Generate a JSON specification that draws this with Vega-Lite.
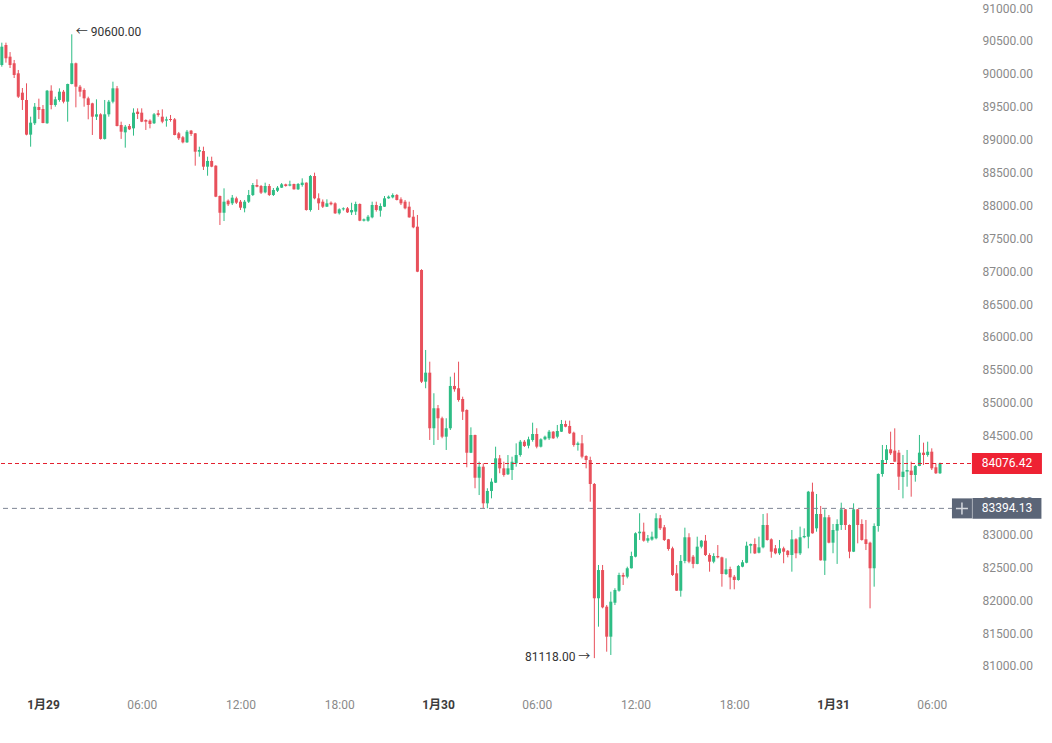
{
"$schema":"https://vega.github.io/schema/vega-lite/v6.json",
"width":970,"height":690,"padding":0,"background":"white",
"config":{"view":{"stroke":null},"font":"Roboto, 'Noto Sans CJK SC', sans-serif"},
"datasets":{"k":[
{"t":"2026-01-28T21:30:00Z","o":90134,"h":90473,"l":90108,"c":90412},
{"t":"2026-01-28T21:45:00Z","o":90438,"h":90473,"l":90169,"c":90236},
{"t":"2026-01-28T22:00:00Z","o":90260,"h":90330,"l":90088,"c":90134},
{"t":"2026-01-28T22:15:00Z","o":90160,"h":90210,"l":89936,"c":89982},
{"t":"2026-01-28T22:30:00Z","o":90007,"h":90058,"l":89632,"c":89652},
{"t":"2026-01-28T22:45:00Z","o":89713,"h":89784,"l":89450,"c":89602},
{"t":"2026-01-28T23:00:00Z","o":89602,"h":89855,"l":89065,"c":89075},
{"t":"2026-01-28T23:15:00Z","o":89075,"h":89348,"l":88892,"c":89257},
{"t":"2026-01-28T23:30:00Z","o":89248,"h":89556,"l":89222,"c":89500},
{"t":"2026-01-28T23:45:00Z","o":89495,"h":89622,"l":89313,"c":89450},
{"t":"2026-01-29T00:00:00Z","o":89465,"h":89525,"l":89248,"c":89252},
{"t":"2026-01-29T00:15:00Z","o":89248,"h":89754,"l":89240,"c":89743},
{"t":"2026-01-29T00:30:00Z","o":89743,"h":89825,"l":89460,"c":89526},
{"t":"2026-01-29T00:45:00Z","o":89526,"h":89652,"l":89500,"c":89612},
{"t":"2026-01-29T01:00:00Z","o":89602,"h":89779,"l":89576,"c":89728},
{"t":"2026-01-29T01:15:00Z","o":89728,"h":89754,"l":89551,"c":89576},
{"t":"2026-01-29T01:30:00Z","o":89576,"h":89850,"l":89272,"c":89845},
{"t":"2026-01-29T01:45:00Z","o":89845,"h":90600,"l":89840,"c":90160},
{"t":"2026-01-29T02:00:00Z","o":90160,"h":90170,"l":89490,"c":89804},
{"t":"2026-01-29T02:15:00Z","o":89804,"h":89830,"l":89652,"c":89728},
{"t":"2026-01-29T02:30:00Z","o":89754,"h":89779,"l":89500,"c":89627},
{"t":"2026-01-29T02:45:00Z","o":89627,"h":89652,"l":89308,"c":89526},
{"t":"2026-01-29T03:00:00Z","o":89551,"h":89560,"l":89070,"c":89348},
{"t":"2026-01-29T03:15:00Z","o":89348,"h":89612,"l":89298,"c":89384},
{"t":"2026-01-29T03:30:00Z","o":89384,"h":89400,"l":89000,"c":89010},
{"t":"2026-01-29T03:45:00Z","o":89010,"h":89602,"l":89000,"c":89384},
{"t":"2026-01-29T04:00:00Z","o":89384,"h":89602,"l":89348,"c":89576},
{"t":"2026-01-29T04:15:00Z","o":89576,"h":89880,"l":89551,"c":89779},
{"t":"2026-01-29T04:30:00Z","o":89779,"h":89815,"l":89200,"c":89206},
{"t":"2026-01-29T04:45:00Z","o":89222,"h":89272,"l":89010,"c":89120},
{"t":"2026-01-29T05:00:00Z","o":89110,"h":89222,"l":88877,"c":89196},
{"t":"2026-01-29T05:15:00Z","o":89206,"h":89237,"l":89145,"c":89156},
{"t":"2026-01-29T05:30:00Z","o":89171,"h":89475,"l":89060,"c":89409},
{"t":"2026-01-29T05:45:00Z","o":89424,"h":89475,"l":89313,"c":89389},
{"t":"2026-01-29T06:00:00Z","o":89409,"h":89475,"l":89265,"c":89272},
{"t":"2026-01-29T06:15:00Z","o":89298,"h":89308,"l":89146,"c":89272},
{"t":"2026-01-29T06:30:00Z","o":89288,"h":89308,"l":89171,"c":89237},
{"t":"2026-01-29T06:45:00Z","o":89248,"h":89404,"l":89237,"c":89384},
{"t":"2026-01-29T07:00:00Z","o":89400,"h":89450,"l":89348,"c":89374},
{"t":"2026-01-29T07:15:00Z","o":89348,"h":89460,"l":89248,"c":89272},
{"t":"2026-01-29T07:30:00Z","o":89288,"h":89348,"l":89196,"c":89308},
{"t":"2026-01-29T07:45:00Z","o":89313,"h":89374,"l":89272,"c":89298},
{"t":"2026-01-29T08:00:00Z","o":89308,"h":89328,"l":89065,"c":89070},
{"t":"2026-01-29T08:15:00Z","o":89095,"h":89116,"l":88994,"c":89020},
{"t":"2026-01-29T08:30:00Z","o":89035,"h":89055,"l":88943,"c":88958},
{"t":"2026-01-29T08:45:00Z","o":88958,"h":89146,"l":88950,"c":89120},
{"t":"2026-01-29T09:00:00Z","o":89136,"h":89146,"l":89055,"c":89085},
{"t":"2026-01-29T09:15:00Z","o":89095,"h":89100,"l":88603,"c":88816},
{"t":"2026-01-29T09:30:00Z","o":88816,"h":88892,"l":88740,"c":88842},
{"t":"2026-01-29T09:45:00Z","o":88826,"h":88892,"l":88538,"c":88588},
{"t":"2026-01-29T10:00:00Z","o":88588,"h":88740,"l":88451,"c":88675},
{"t":"2026-01-29T10:15:00Z","o":88675,"h":88740,"l":88580,"c":88588},
{"t":"2026-01-29T10:30:00Z","o":88603,"h":88610,"l":88125,"c":88132},
{"t":"2026-01-29T10:45:00Z","o":88142,"h":88150,"l":87702,"c":87888},
{"t":"2026-01-29T11:00:00Z","o":87888,"h":88259,"l":87762,"c":88056},
{"t":"2026-01-29T11:15:00Z","o":88071,"h":88090,"l":87990,"c":88016},
{"t":"2026-01-29T11:30:00Z","o":88031,"h":88158,"l":88005,"c":88117},
{"t":"2026-01-29T11:45:00Z","o":88107,"h":88132,"l":88021,"c":88041},
{"t":"2026-01-29T12:00:00Z","o":88056,"h":88082,"l":87930,"c":87965},
{"t":"2026-01-29T12:15:00Z","o":87955,"h":88082,"l":87894,"c":88056},
{"t":"2026-01-29T12:30:00Z","o":88056,"h":88234,"l":88036,"c":88157},
{"t":"2026-01-29T12:45:00Z","o":88157,"h":88340,"l":88142,"c":88310},
{"t":"2026-01-29T13:00:00Z","o":88310,"h":88396,"l":88275,"c":88284},
{"t":"2026-01-29T13:15:00Z","o":88294,"h":88310,"l":88173,"c":88193},
{"t":"2026-01-29T13:30:00Z","o":88198,"h":88345,"l":88183,"c":88294},
{"t":"2026-01-29T13:45:00Z","o":88294,"h":88325,"l":88142,"c":88158},
{"t":"2026-01-29T14:00:00Z","o":88158,"h":88264,"l":88142,"c":88234},
{"t":"2026-01-29T14:15:00Z","o":88223,"h":88294,"l":88203,"c":88269},
{"t":"2026-01-29T14:30:00Z","o":88269,"h":88340,"l":88264,"c":88320},
{"t":"2026-01-29T14:45:00Z","o":88320,"h":88330,"l":88284,"c":88294},
{"t":"2026-01-29T15:00:00Z","o":88300,"h":88375,"l":88290,"c":88320},
{"t":"2026-01-29T15:15:00Z","o":88325,"h":88330,"l":88240,"c":88244},
{"t":"2026-01-29T15:30:00Z","o":88244,"h":88340,"l":88234,"c":88325},
{"t":"2026-01-29T15:45:00Z","o":88310,"h":88411,"l":88284,"c":88345},
{"t":"2026-01-29T16:00:00Z","o":88345,"h":88350,"l":87920,"c":87930},
{"t":"2026-01-29T16:15:00Z","o":87930,"h":88462,"l":87905,"c":88446},
{"t":"2026-01-29T16:30:00Z","o":88446,"h":88497,"l":88092,"c":88107},
{"t":"2026-01-29T16:45:00Z","o":88107,"h":88183,"l":87930,"c":88031},
{"t":"2026-01-29T17:00:00Z","o":88056,"h":88090,"l":87960,"c":87980},
{"t":"2026-01-29T17:15:00Z","o":87980,"h":88092,"l":87975,"c":88031},
{"t":"2026-01-29T17:30:00Z","o":88041,"h":88060,"l":88000,"c":88016},
{"t":"2026-01-29T17:45:00Z","o":88031,"h":88046,"l":87870,"c":87879},
{"t":"2026-01-29T18:00:00Z","o":87879,"h":87955,"l":87860,"c":87940},
{"t":"2026-01-29T18:15:00Z","o":87940,"h":87970,"l":87920,"c":87955},
{"t":"2026-01-29T18:30:00Z","o":87955,"h":87975,"l":87884,"c":87894},
{"t":"2026-01-29T18:45:00Z","o":87894,"h":88040,"l":87854,"c":87930},
{"t":"2026-01-29T19:00:00Z","o":87905,"h":88056,"l":87854,"c":88021},
{"t":"2026-01-29T19:15:00Z","o":88021,"h":88030,"l":87760,"c":87767},
{"t":"2026-01-29T19:30:00Z","o":87767,"h":87800,"l":87755,"c":87788},
{"t":"2026-01-29T19:45:00Z","o":87767,"h":87854,"l":87752,"c":87828},
{"t":"2026-01-29T20:00:00Z","o":87818,"h":88056,"l":87803,"c":88006},
{"t":"2026-01-29T20:15:00Z","o":88006,"h":88056,"l":87905,"c":87930},
{"t":"2026-01-29T20:30:00Z","o":87920,"h":88031,"l":87828,"c":87990},
{"t":"2026-01-29T20:45:00Z","o":87980,"h":88142,"l":87975,"c":88107},
{"t":"2026-01-29T21:00:00Z","o":88107,"h":88150,"l":88100,"c":88132},
{"t":"2026-01-29T21:15:00Z","o":88122,"h":88183,"l":88107,"c":88158},
{"t":"2026-01-29T21:30:00Z","o":88158,"h":88173,"l":88075,"c":88082},
{"t":"2026-01-29T21:45:00Z","o":88092,"h":88122,"l":88005,"c":88031},
{"t":"2026-01-29T22:00:00Z","o":88056,"h":88082,"l":87940,"c":87955},
{"t":"2026-01-29T22:15:00Z","o":87980,"h":88056,"l":87812,"c":87818},
{"t":"2026-01-29T22:30:00Z","o":87828,"h":87930,"l":87652,"c":87666},
{"t":"2026-01-29T22:45:00Z","o":87676,"h":87854,"l":86985,"c":86992},
{"t":"2026-01-29T23:00:00Z","o":87018,"h":87030,"l":85300,"c":85320},
{"t":"2026-01-29T23:15:00Z","o":85320,"h":85802,"l":85220,"c":85457},
{"t":"2026-01-29T23:30:00Z","o":85457,"h":85624,"l":84434,"c":84612},
{"t":"2026-01-29T23:45:00Z","o":84612,"h":85144,"l":84358,"c":84916},
{"t":"2026-01-30T00:00:00Z","o":84916,"h":84966,"l":84434,"c":84764},
{"t":"2026-01-30T00:15:00Z","o":84764,"h":84788,"l":84460,"c":84484},
{"t":"2026-01-30T00:30:00Z","o":84484,"h":84764,"l":84282,"c":84612},
{"t":"2026-01-30T00:45:00Z","o":84612,"h":85396,"l":84586,"c":85255},
{"t":"2026-01-30T01:00:00Z","o":85255,"h":85457,"l":85168,"c":85205},
{"t":"2026-01-30T01:15:00Z","o":85220,"h":85624,"l":85016,"c":85042},
{"t":"2026-01-30T01:30:00Z","o":85057,"h":85092,"l":84738,"c":84864},
{"t":"2026-01-30T01:45:00Z","o":84890,"h":84900,"l":84019,"c":84240},
{"t":"2026-01-30T02:00:00Z","o":84240,"h":84626,"l":84235,"c":84510},
{"t":"2026-01-30T02:15:00Z","o":84510,"h":84515,"l":83700,"c":83860},
{"t":"2026-01-30T02:30:00Z","o":83860,"h":84104,"l":83597,"c":84028},
{"t":"2026-01-30T02:45:00Z","o":84028,"h":84080,"l":83395,"c":83471},
{"t":"2026-01-30T03:00:00Z","o":83471,"h":83700,"l":83395,"c":83659},
{"t":"2026-01-30T03:15:00Z","o":83659,"h":83851,"l":83547,"c":83800},
{"t":"2026-01-30T03:30:00Z","o":83785,"h":84332,"l":83780,"c":84155},
{"t":"2026-01-30T03:45:00Z","o":84155,"h":84206,"l":83928,"c":84003},
{"t":"2026-01-30T04:00:00Z","o":84003,"h":84104,"l":83876,"c":83902},
{"t":"2026-01-30T04:15:00Z","o":83912,"h":84205,"l":83902,"c":84003},
{"t":"2026-01-30T04:30:00Z","o":83978,"h":84180,"l":83826,"c":84104},
{"t":"2026-01-30T04:45:00Z","o":84079,"h":84383,"l":84028,"c":84205},
{"t":"2026-01-30T05:00:00Z","o":84205,"h":84434,"l":84180,"c":84408},
{"t":"2026-01-30T05:15:00Z","o":84408,"h":84434,"l":84327,"c":84342},
{"t":"2026-01-30T05:30:00Z","o":84347,"h":84484,"l":84307,"c":84444},
{"t":"2026-01-30T05:45:00Z","o":84434,"h":84697,"l":84408,"c":84525},
{"t":"2026-01-30T06:00:00Z","o":84525,"h":84612,"l":84307,"c":84332},
{"t":"2026-01-30T06:15:00Z","o":84332,"h":84460,"l":84320,"c":84444},
{"t":"2026-01-30T06:30:00Z","o":84444,"h":84500,"l":84430,"c":84484},
{"t":"2026-01-30T06:45:00Z","o":84459,"h":84586,"l":84434,"c":84560},
{"t":"2026-01-30T07:00:00Z","o":84560,"h":84570,"l":84450,"c":84459},
{"t":"2026-01-30T07:15:00Z","o":84484,"h":84662,"l":84459,"c":84570},
{"t":"2026-01-30T07:30:00Z","o":84560,"h":84738,"l":84555,"c":84677},
{"t":"2026-01-30T07:45:00Z","o":84677,"h":84728,"l":84627,"c":84636},
{"t":"2026-01-30T08:00:00Z","o":84647,"h":84728,"l":84525,"c":84535},
{"t":"2026-01-30T08:15:00Z","o":84545,"h":84560,"l":84332,"c":84358},
{"t":"2026-01-30T08:30:00Z","o":84358,"h":84408,"l":84272,"c":84383},
{"t":"2026-01-30T08:45:00Z","o":84383,"h":84510,"l":84155,"c":84180},
{"t":"2026-01-30T09:00:00Z","o":84190,"h":84201,"l":84003,"c":84130},
{"t":"2026-01-30T09:15:00Z","o":84130,"h":84180,"l":83496,"c":83765},
{"t":"2026-01-30T09:30:00Z","o":83765,"h":83780,"l":81118,"c":82028},
{"t":"2026-01-30T09:45:00Z","o":82028,"h":82534,"l":81596,"c":82457},
{"t":"2026-01-30T10:00:00Z","o":82457,"h":82534,"l":81875,"c":81890},
{"t":"2026-01-30T10:15:00Z","o":81900,"h":81925,"l":81216,"c":81444},
{"t":"2026-01-30T10:30:00Z","o":81444,"h":82128,"l":81166,"c":81976},
{"t":"2026-01-30T10:45:00Z","o":81960,"h":82180,"l":81925,"c":82154},
{"t":"2026-01-30T11:00:00Z","o":82143,"h":82416,"l":82128,"c":82382},
{"t":"2026-01-30T11:15:00Z","o":82382,"h":82416,"l":82230,"c":82356},
{"t":"2026-01-30T11:30:00Z","o":82356,"h":82508,"l":82331,"c":82484},
{"t":"2026-01-30T11:45:00Z","o":82484,"h":82736,"l":82480,"c":82670},
{"t":"2026-01-30T12:00:00Z","o":82660,"h":83030,"l":82650,"c":83016},
{"t":"2026-01-30T12:15:00Z","o":83016,"h":83320,"l":82914,"c":83040},
{"t":"2026-01-30T12:30:00Z","o":83040,"h":83177,"l":82888,"c":82903},
{"t":"2026-01-30T12:45:00Z","o":82903,"h":82990,"l":82873,"c":82940},
{"t":"2026-01-30T13:00:00Z","o":82920,"h":83040,"l":82903,"c":82964},
{"t":"2026-01-30T13:15:00Z","o":82940,"h":83320,"l":82924,"c":83244},
{"t":"2026-01-30T13:30:00Z","o":83244,"h":83294,"l":83066,"c":83092},
{"t":"2026-01-30T13:45:00Z","o":83107,"h":83142,"l":82898,"c":82914},
{"t":"2026-01-30T14:00:00Z","o":82924,"h":82930,"l":82751,"c":82777},
{"t":"2026-01-30T14:15:00Z","o":82787,"h":82812,"l":82367,"c":82382},
{"t":"2026-01-30T14:30:00Z","o":82407,"h":82534,"l":82140,"c":82143},
{"t":"2026-01-30T14:45:00Z","o":82143,"h":82686,"l":82052,"c":82595},
{"t":"2026-01-30T15:00:00Z","o":82595,"h":83101,"l":82560,"c":82955},
{"t":"2026-01-30T15:15:00Z","o":82955,"h":83016,"l":82560,"c":82584},
{"t":"2026-01-30T15:30:00Z","o":82660,"h":82686,"l":82484,"c":82550},
{"t":"2026-01-30T15:45:00Z","o":82550,"h":82964,"l":82545,"c":82812},
{"t":"2026-01-30T16:00:00Z","o":82812,"h":82914,"l":82787,"c":82903},
{"t":"2026-01-30T16:15:00Z","o":82903,"h":82990,"l":82670,"c":82686},
{"t":"2026-01-30T16:30:00Z","o":82686,"h":82712,"l":82432,"c":82584},
{"t":"2026-01-30T16:45:00Z","o":82584,"h":82712,"l":82560,"c":82670},
{"t":"2026-01-30T17:00:00Z","o":82670,"h":82837,"l":82635,"c":82650},
{"t":"2026-01-30T17:15:00Z","o":82650,"h":82660,"l":82204,"c":82397},
{"t":"2026-01-30T17:30:00Z","o":82397,"h":82635,"l":82382,"c":82467},
{"t":"2026-01-30T17:45:00Z","o":82473,"h":82508,"l":82164,"c":82346},
{"t":"2026-01-30T18:00:00Z","o":82356,"h":82382,"l":82164,"c":82306},
{"t":"2026-01-30T18:15:00Z","o":82306,"h":82534,"l":82295,"c":82518},
{"t":"2026-01-30T18:30:00Z","o":82508,"h":82610,"l":82499,"c":82575},
{"t":"2026-01-30T18:45:00Z","o":82568,"h":82888,"l":82560,"c":82827},
{"t":"2026-01-30T19:00:00Z","o":82827,"h":82860,"l":82710,"c":82853},
{"t":"2026-01-30T19:15:00Z","o":82853,"h":82939,"l":82700,"c":82710},
{"t":"2026-01-30T19:30:00Z","o":82720,"h":82964,"l":82710,"c":82802},
{"t":"2026-01-30T19:45:00Z","o":82802,"h":83309,"l":82787,"c":83142},
{"t":"2026-01-30T20:00:00Z","o":83142,"h":83320,"l":82904,"c":82914},
{"t":"2026-01-30T20:15:00Z","o":82924,"h":82939,"l":82644,"c":82736},
{"t":"2026-01-30T20:30:00Z","o":82787,"h":82837,"l":82696,"c":82711},
{"t":"2026-01-30T20:45:00Z","o":82711,"h":82914,"l":82686,"c":82787},
{"t":"2026-01-30T21:00:00Z","o":82787,"h":82812,"l":82560,"c":82736},
{"t":"2026-01-30T21:15:00Z","o":82750,"h":82761,"l":82650,"c":82686},
{"t":"2026-01-30T21:30:00Z","o":82686,"h":83066,"l":82432,"c":82924},
{"t":"2026-01-30T21:45:00Z","o":82924,"h":82939,"l":82636,"c":82711},
{"t":"2026-01-30T22:00:00Z","o":82711,"h":83117,"l":82685,"c":82955},
{"t":"2026-01-30T22:15:00Z","o":82955,"h":83091,"l":82940,"c":82975},
{"t":"2026-01-30T22:30:00Z","o":82964,"h":83660,"l":82787,"c":83648},
{"t":"2026-01-30T22:45:00Z","o":83648,"h":83785,"l":83010,"c":83015},
{"t":"2026-01-30T23:00:00Z","o":83091,"h":83613,"l":83040,"c":83309},
{"t":"2026-01-30T23:15:00Z","o":83309,"h":83431,"l":82600,"c":82605},
{"t":"2026-01-30T23:30:00Z","o":82600,"h":83380,"l":82382,"c":83259},
{"t":"2026-01-30T23:45:00Z","o":83259,"h":83294,"l":82863,"c":82873},
{"t":"2026-01-31T00:00:00Z","o":82873,"h":83157,"l":82712,"c":83066},
{"t":"2026-01-31T00:15:00Z","o":83056,"h":83228,"l":82550,"c":83157},
{"t":"2026-01-31T00:30:00Z","o":83142,"h":83481,"l":83066,"c":83380},
{"t":"2026-01-31T00:45:00Z","o":83380,"h":83385,"l":83066,"c":83142},
{"t":"2026-01-31T01:00:00Z","o":83142,"h":83150,"l":82636,"c":82736},
{"t":"2026-01-31T01:15:00Z","o":82736,"h":83471,"l":82730,"c":83380},
{"t":"2026-01-31T01:30:00Z","o":83380,"h":83385,"l":82863,"c":83142},
{"t":"2026-01-31T01:45:00Z","o":83157,"h":83228,"l":82904,"c":82914},
{"t":"2026-01-31T02:00:00Z","o":82924,"h":83218,"l":82761,"c":82853},
{"t":"2026-01-31T02:15:00Z","o":82873,"h":82888,"l":81875,"c":82484},
{"t":"2026-01-31T02:30:00Z","o":82484,"h":83167,"l":82204,"c":83126},
{"t":"2026-01-31T02:45:00Z","o":83126,"h":83927,"l":83040,"c":83917},
{"t":"2026-01-31T03:00:00Z","o":83917,"h":84358,"l":83876,"c":84130},
{"t":"2026-01-31T03:15:00Z","o":84130,"h":84358,"l":84079,"c":84292},
{"t":"2026-01-31T03:30:00Z","o":84292,"h":84560,"l":84206,"c":84232},
{"t":"2026-01-31T03:45:00Z","o":84272,"h":84611,"l":84100,"c":84104},
{"t":"2026-01-31T04:00:00Z","o":84241,"h":84282,"l":83674,"c":83876},
{"t":"2026-01-31T04:15:00Z","o":83871,"h":84206,"l":83547,"c":83952},
{"t":"2026-01-31T04:30:00Z","o":83953,"h":84282,"l":83724,"c":83978},
{"t":"2026-01-31T04:45:00Z","o":83968,"h":84104,"l":83572,"c":83902},
{"t":"2026-01-31T05:00:00Z","o":83902,"h":84054,"l":83800,"c":84039},
{"t":"2026-01-31T05:15:00Z","o":84039,"h":84510,"l":84035,"c":84241},
{"t":"2026-01-31T05:30:00Z","o":84241,"h":84393,"l":84054,"c":84206},
{"t":"2026-01-31T05:45:00Z","o":84206,"h":84408,"l":84180,"c":84256},
{"t":"2026-01-31T06:00:00Z","o":84256,"h":84307,"l":83978,"c":84003},
{"t":"2026-01-31T06:15:00Z","o":84019,"h":84079,"l":83917,"c":83928},
{"t":"2026-01-31T06:30:00Z","o":83928,"h":84090,"l":83917,"c":84076.42}
]},
"encoding":{
  "x":{"field":"t","type":"temporal","scale":{"type":"utc","domain":[1769635620000,1769847780000],"padding":0},
   "axis":{"title":null,"domain":false,"ticks":false,"tickSize":0,"grid":false,"labelPadding":9,"labelFlush":false,"labelOverlap":false,"labelFontSize":12,
    "values":[1769644800000,1769666400000,1769688000000,1769709600000,1769731200000,1769752800000,1769774400000,1769796000000,1769817600000,1769839200000],
    "labelExpr":"utchours(datum.value)==0 ? (utcmonth(datum.value)+1)+'月'+utcdate(datum.value) : utcFormat(datum.value,'%H:%M')",
    "labelColor":{"condition":{"test":"utchours(datum.value)==0","value":"#3c3c3c"},"value":"#8a8a8a"},
    "labelFontWeight":{"condition":{"test":"utchours(datum.value)==0","value":"bold"},"value":"normal"}}},
  "y":{"type":"quantitative","scale":{"domain":[80633.6,91121.6],"nice":false,"zero":false,"padding":0},
   "axis":{"title":null,"orient":"right","domain":false,"ticks":false,"tickSize":0,"grid":false,"labelPadding":11,"format":".2f","labelFontSize":12,"labelColor":"#8a8a8a",
    "values":[81000,81500,82000,82500,83000,83500,84500,85000,85500,86000,86500,87000,87500,88000,88500,89000,89500,90000,90500,91000]}}
},
"layer":[
{"data":{"name":"k"},"mark":{"type":"rule","strokeWidth":1},
 "encoding":{
  "y":{"field":"l","type":"quantitative"},
  "y2":{"field":"h"},
  "color":{"condition":{"test":"datum.c >= datum.o","value":"#2ebd85"},"value":"#e8505b"}}},
{"data":{"name":"k"},"mark":{"type":"bar","size":3},
 "encoding":{
  "y":{"field":"o","type":"quantitative"},
  "y2":{"field":"c"},
  "color":{"condition":{"test":"datum.c >= datum.o","value":"#2ebd85"},"value":"#e8505b"}}},
{"data":{"values":[{"p":84076.42}]},"mark":{"type":"rule","strokeWidth":1.2,"strokeDash":[4,3]},
 "encoding":{"x":null,"y":{"field":"p","type":"quantitative"},"color":{"value":"#e4202f"}}},
{"data":{"values":[{"p":83394.13}]},"mark":{"type":"rule","strokeWidth":1,"strokeDash":[5,4]},
 "encoding":{"x":null,"y":{"field":"p","type":"quantitative"},"color":{"value":"#7f8694"}}},
{"data":{"values":[{"t":"2026-01-29T01:45:00Z","p":90600,"label":"← 90600.00"}]},"mark":{"type":"text","align":"left","baseline":"middle","dx":4,"dy":-2,"fontSize":12,"color":"#333333"},
 "encoding":{"y":{"field":"p","type":"quantitative"},"text":{"field":"label"}}},
{"data":{"values":[{"t":"2026-01-30T09:30:00Z","p":81118,"label":"81118.00 →"}]},"mark":{"type":"text","align":"right","baseline":"middle","dx":-4,"dy":-1,"fontSize":12,"color":"#333333"},
 "encoding":{"y":{"field":"p","type":"quantitative"},"text":{"field":"label"}}},
{"data":{"values":[{"t":"2026-01-31T10:34:00Z","p":84076.42,"label":"84076.42"}]},"layer":[
 {"mark":{"type":"point","shape":"M-1,-0.3L1,-0.3L1,0.3L-1,0.3Z","size":4900,"filled":true,"color":"#ee2233","opacity":1,"strokeWidth":0},
  "encoding":{"y":{"field":"p","type":"quantitative"}}},
 {"mark":{"type":"text","color":"white","fontSize":12,"align":"center","baseline":"middle"},
  "encoding":{"y":{"field":"p","type":"quantitative"},"text":{"field":"label"}}}
]},
{"data":{"values":[{"t":"2026-01-31T07:50:00Z","p":83394.13}]},"layer":[
 {"mark":{"type":"point","shape":"square","size":400,"filled":true,"color":"#5b6577","opacity":1,"strokeWidth":0},
  "encoding":{"y":{"field":"p","type":"quantitative"}}},
 {"mark":{"type":"point","shape":"M-1,0L1,0M0,-1L0,1","size":144,"filled":false,"color":"#d4d8de","opacity":1,"strokeWidth":1.5},
  "encoding":{"y":{"field":"p","type":"quantitative"}}}
]},
{"data":{"values":[{"t":"2026-01-31T10:34:00Z","p":83394.13,"label":"83394.13"}]},"layer":[
 {"mark":{"type":"point","shape":"M-1,-0.3L1,-0.3L1,0.3L-1,0.3Z","size":4761,"filled":true,"color":"#5b6577","opacity":1,"strokeWidth":0},
  "encoding":{"y":{"field":"p","type":"quantitative"}}},
 {"mark":{"type":"text","color":"white","fontSize":12,"align":"center","baseline":"middle"},
  "encoding":{"y":{"field":"p","type":"quantitative"},"text":{"field":"label"}}}
]}
]
}
